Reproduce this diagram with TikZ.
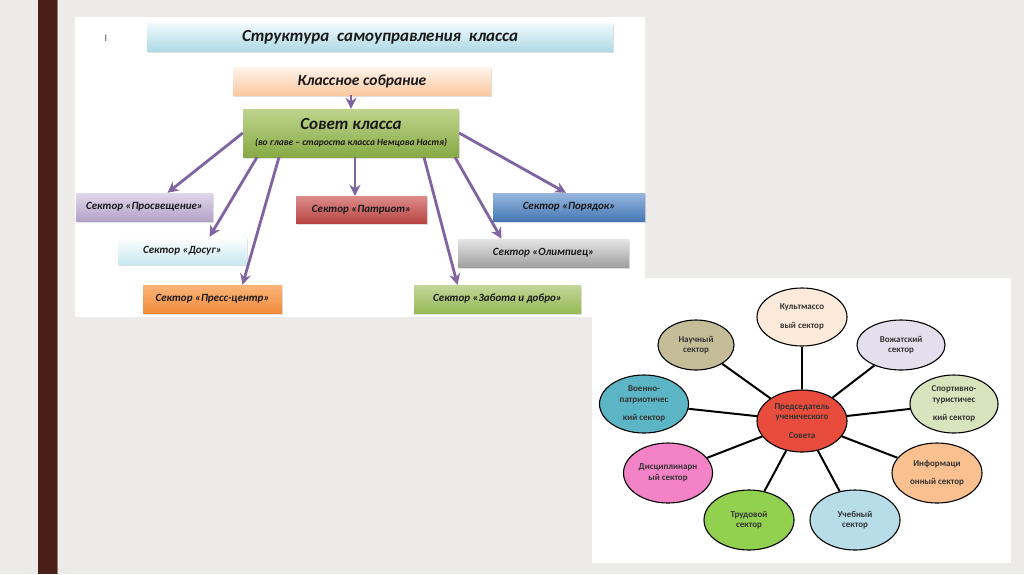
\documentclass[tikz,border=0pt]{standalone}
\usepackage{fontspec}
\setmainfont{Carlito}
\usetikzlibrary{arrows.meta,shapes.geometric,shadows}

\definecolor{fonGray}{RGB}{236,235,233}
\definecolor{barBrown}{RGB}{74,32,22}
\definecolor{strelkaPurple}{RGB}{128,100,162}

\tikzset{
	sektor/.style={draw=none, inner sep=2pt, text=black!90,
		font=\fontsize{11}{13}\selectfont\bfseries\itshape,
		drop shadow={shadow xshift=1pt, shadow yshift=-2pt, opacity=0.25}},
	strelka/.style={draw=strelkaPurple, line width=2.8pt, -{Stealth[length=11pt,width=11pt]}},
	sfera/.style={ellipse, draw=black, line width=1.1pt, inner sep=0pt, align=center,
		text=black!80, font=\fontsize{9}{10.5}\selectfont\bfseries},
	spica/.style={draw=black, line width=2pt},
}

\begin{document}
\begin{tikzpicture}[x=1pt, y=-1pt]
			%%%%% START %%%%%
			
			\useasboundingbox[fill=fonGray] (0, 0) rectangle (1024, 574);
			\fill[barBrown] (38, 0) rectangle (57, 574);
			\fill[barBrown!60!white] (57, 0) rectangle (58, 574);
			
			%% top panel
			\fill[white] (75, 17) rectangle (645, 317);
			\node[text=black!70, font=\fontsize{10}{11}\selectfont] (metka) at (106, 38) {I};
			
			\node[sektor, top color={rgb,255:red,240;green,250;blue,252}, bottom color={rgb,255:red,175;green,218;blue,230}, minimum width=466pt, minimum height=28pt,
				font=\fontsize{17}{19}\selectfont\bfseries\itshape] (zagolovok) at (380, 37) {Структура\ \ самоуправления\ \ класса};
			\node[sektor, top color={rgb,255:red,254;green,244;blue,236}, bottom color={rgb,255:red,250;green,200;blue,160}, minimum width=258pt, minimum height=28pt,
				font=\fontsize{15.5}{18}\selectfont\bfseries\itshape] (sobranie) at (362, 81) {Классное собрание};
			\node[sektor, top color={rgb,255:red,190;green,212;blue,140}, bottom color={rgb,255:red,135;green,170;blue,70}, minimum width=216pt, minimum height=48pt,
				align=center] (sovet) at (351, 133) {{\fontsize{17}{19}\selectfont Совет класса}\\[3pt]{\fontsize{9.5}{11}\selectfont (во главе – староста класса Немцова Настя)}};
			
			\node[sektor, top color={rgb,255:red,225;green,215;blue,236}, bottom color={rgb,255:red,179;green,162;blue,199}, minimum width=137pt, minimum height=28pt] (prosv) at (144.5, 207) {Сектор «Просвещение»};
			\node[sektor, top color=white, bottom color={rgb,255:red,200;green,232;blue,240}, minimum width=129pt, minimum height=27pt] (dosug) at (182.5, 250.5) {Сектор «Досуг»};
			\node[sektor, top color={rgb,255:red,250;green,180;blue,120}, bottom color={rgb,255:red,240;green,140;blue,60}, minimum width=139pt, minimum height=28pt] (press) at (212.5, 299) {Сектор «Пресс-центр»};
			\node[sektor, top color={rgb,255:red,220;green,140;blue,138}, bottom color={rgb,255:red,185;green,70;blue,68}, minimum width=131pt, minimum height=27pt] (patriot) at (361.5, 209.5) {Сектор «Патриот»};
			\node[sektor, top color={rgb,255:red,150;green,182;blue,220}, bottom color={rgb,255:red,70;green,120;blue,182}, minimum width=152pt, minimum height=28pt] (poryadok) at (569, 207) {Сектор «Порядок»};
			\node[sektor, top color=gray!20, bottom color=gray!75, minimum width=171pt, minimum height=28pt] (olimp) at (543.5, 253) {Сектор «Олимпиец»};
			\node[sektor, top color={rgb,255:red,195;green,214;blue,155}, bottom color={rgb,255:red,150;green,185;blue,85}, minimum width=167pt, minimum height=28pt] (zabota) at (497.5, 299) {Сектор «Забота и добро»};
			
			\draw[strelka] (sobranie.south -| sovet.north) -- (sovet.north);
			\draw[strelka] (sovet.west) -- ([xshift=23pt]prosv.north);
			\draw[strelka] ([xshift=-94pt]sovet.south) -- ([xshift=27pt]dosug.north);
			\draw[strelka] ([xshift=-72pt]sovet.south) -- ([xshift=30pt]press.north);
			\draw[strelka] ([xshift=4pt]sovet.south) -- ([xshift=-6.5pt]patriot.north);
			\draw[strelka] ([xshift=73pt]sovet.south) -- ([xshift=-40pt]zabota.north);
			\draw[strelka] ([xshift=104pt]sovet.south) -- ([xshift=-42pt]olimp.north);
			\draw[strelka] (sovet.east) -- ([xshift=-3pt]poryadok.north);
			
			%% bottom right panel
			\fill[white] (592, 278) rectangle (1011, 563);
			
			\node[sfera, fill={rgb,255:red,253;green,234;blue,218}, minimum width=90pt, minimum height=58pt] (kultmass) at (802, 317) {Культмассо\\[8pt]вый сектор};
			\node[sfera, fill={rgb,255:red,196;green,189;blue,151}, minimum width=76pt, minimum height=50pt] (nauchn) at (696, 345) {Научный\\сектор};
			\node[sfera, fill={rgb,255:red,228;green,223;blue,236}, minimum width=88pt, minimum height=50pt] (vozhat) at (901, 345) {Вожатский\\сектор};
			\node[sfera, fill={rgb,255:red,91;green,181;blue,196}, minimum width=89pt, minimum height=58pt] (voenno) at (644, 404) {Военно-\\патриотичес\\[8pt]кий сектор};
			\node[sfera, fill={rgb,255:red,215;green,228;blue,189}, minimum width=88pt, minimum height=58pt] (sportiv) at (954, 404) {Спортивно-\\туристичес\\[8pt]кий сектор};
			\node[sfera, fill={rgb,255:red,231;green,76;blue,60}, minimum width=90pt, minimum height=62pt] (predsed) at (802, 421) {Председатель\\ученического\\[8pt]Совета};
			\node[sfera, fill={rgb,255:red,243;green,131;blue,198}, minimum width=89pt, minimum height=60pt] (discipl) at (668, 473) {Дисциплинарн\\ый сектор};
			\node[sfera, fill={rgb,255:red,146;green,208;blue,80}, minimum width=90pt, minimum height=60pt] (trudov) at (749, 520) {Трудовой\\сектор};
			\node[sfera, fill={rgb,255:red,183;green,222;blue,232}, minimum width=90pt, minimum height=60pt] (uchebn) at (855, 520) {Учебный\\сектор};
			\node[sfera, fill={rgb,255:red,250;green,192;blue,144}, minimum width=90pt, minimum height=60pt] (inform) at (937, 473) {Информаци\\[8pt]онный сектор};
			
			\foreach \sektorname in {kultmass, nauchn, vozhat, voenno, sportiv, discipl, trudov, uchebn, inform}
				\draw[spica] (predsed) -- (\sektorname);
			
			%%%%% END %%%%%
\end{tikzpicture}
\end{document}
